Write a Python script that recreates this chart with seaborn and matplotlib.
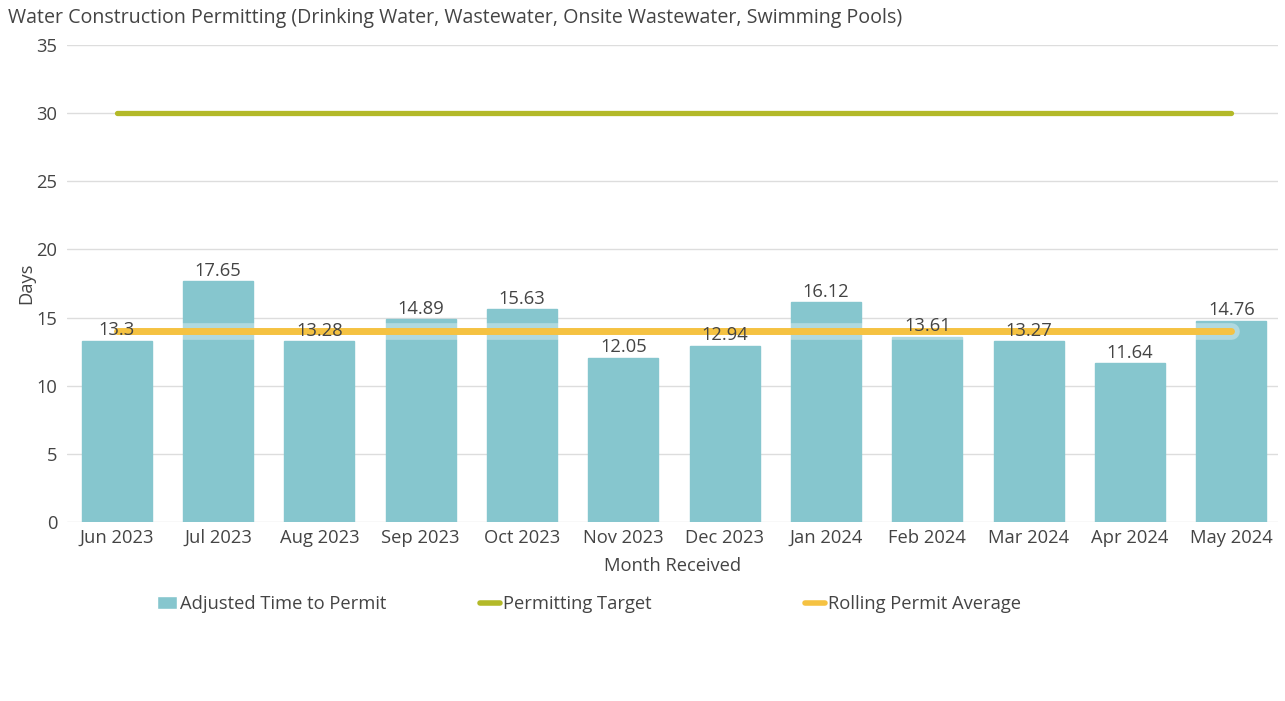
import pandas as pd
import seaborn as sns
import matplotlib.pyplot as plt
from matplotlib.patches import Patch
from matplotlib.lines import Line2D

# chart values
months = ["Jun 2023", "Jul 2023", "Aug 2023", "Sep 2023", "Oct 2023", "Nov 2023",
          "Dec 2023", "Jan 2024", "Feb 2024", "Mar 2024", "Apr 2024", "May 2024"]
adjusted_time = [13.3, 17.65, 13.28, 14.89, 15.63, 12.05, 12.94, 16.12, 13.61, 13.27, 11.64, 14.76]
target = [30] * 12
rolling_avg = [14.0, 14.0, 14.0, 14.0, 14.0, 14.0, 14.0, 14.0, 14.0, 14.0, 14.0, 14.0]

bar_color = "#86C6CE"
target_color = "#B3B928"
avg_color = "#F5C242"
text_color = "#444444"

df = pd.DataFrame({"Month Received": months, "Days": adjusted_time,
                   "Target": target, "Rolling": rolling_avg})

sns.set_style("white")
plt.rcParams["font.family"] = ["Open Sans", "DejaVu Sans"]
fs = 13.2

fig = plt.figure(figsize=(12.85, 7.01), dpi=100)
ax = fig.add_axes([67 / 1285, 1 - 522 / 701, (1278 - 67) / 1285, (522 - 45) / 701])

sns.barplot(data=df, x="Month Received", y="Days", color=bar_color, width=0.69,
            saturation=1, ax=ax, zorder=2, edgecolor=bar_color)
labels = ax.bar_label(ax.containers[0], labels=[f"{v:g}" for v in adjusted_time],
                      padding=1, fontsize=fs, color=text_color)
for t in labels:
    t.set_zorder(6)

xs = list(range(len(months)))
ax.plot(xs, df["Target"], color=target_color, lw=3.8, solid_capstyle="round", zorder=3)
# light halo under the rolling average line
ax.plot(xs, df["Rolling"], color="white", lw=12, alpha=0.35, solid_capstyle="round", zorder=3)
ax.plot(xs, df["Rolling"], color=avg_color, lw=5, solid_capstyle="round", zorder=4)

ax.set_ylim(0, 35)
ax.set_yticks(range(0, 36, 5))
ax.set_xlim(-0.49, 11.46)
ax.yaxis.grid(True, color="#dddddd", lw=1)
ax.set_axisbelow(True)
sns.despine(ax=ax, left=True, bottom=True)
ax.tick_params(axis="both", length=0, labelsize=fs, labelcolor=text_color)
ax.tick_params(axis="y", pad=7)
ax.tick_params(axis="x", pad=5)
ax.set_xlabel("Month Received", fontsize=fs, color=text_color, labelpad=7)
ax.set_ylabel("Days", fontsize=fs, color=text_color, labelpad=1)

fig.text(8 / 1285, 1 - 18 / 701, "Water Construction Permitting (Drinking Water, Wastewater, Onsite Wastewater, Swimming Pools)",
         fontsize=14.1, color=text_color, va="center", ha="left")

# legend entries spaced like the original
items = [
    (Patch(facecolor=bar_color), "Adjusted Time to Permit", 157),
    (Line2D([], [], color=target_color, lw=4), "Permitting Target", 480),
    (Line2D([], [], color=avg_color, lw=4), "Rolling Permit Average", 805),
]
for handle, label, xpix in items:
    leg = fig.legend([handle], [label], loc="center left",
                     bbox_to_anchor=(xpix / 1285, 1 - 604 / 701), frameon=False,
                     fontsize=fs, handlelength=1.1, handletextpad=0.15,
                     borderaxespad=0, borderpad=0)
    for t in leg.get_texts():
        t.set_color(text_color)

fig.savefig("out.png", dpi=100)
